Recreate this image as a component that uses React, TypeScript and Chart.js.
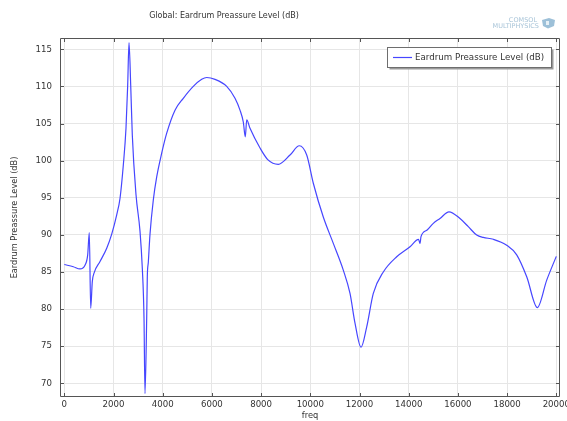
import React, { useEffect, useRef } from "react";
import { Chart, registerables } from "chart.js";

Chart.register(...registerables);

const chartTitle = "Global: Eardrum Preassure Level (dB)";
const seriesLabel = "Eardrum Preassure Level (dB)";
const xAxisLabel = "freq";
const yAxisLabel = "Eardrum Preassure Level (dB)";

const freq = [
  0, 366, 638, 841, 951, 1016, 1073, 1138, 1220, 1451, 1724, 1927, 2130, 2264,
  2399, 2508, 2577, 2630, 2699, 2764, 2915, 3077, 3171, 3240, 3280, 3349, 3374,
  3415, 3484, 3618, 3756, 3959, 4163, 4500, 4837, 5244, 5585, 5789, 6126, 6602,
  6939, 7142, 7276, 7358, 7415, 7549, 7956, 8280, 8699, 9175, 9553, 9854, 10122,
  10528, 10935, 11341, 11614, 11817, 12061, 12293, 12561, 12968, 13512, 14053,
  14400, 14459, 14500, 14750, 15000, 15272, 15638, 16085, 16423, 16764, 17032,
  17439, 17984, 18390, 18797, 19228, 19610, 20000,
];
const level = [
  86.0, 85.7, 85.4, 85.9, 87.3, 90.3, 80.1, 83.7, 84.95, 86.4, 88.2, 90.1, 92.7,
  94.9, 99.4, 104.4, 110.2, 115.9, 110.2, 103.45, 95.4, 90.5, 85.5, 78.75, 68.6,
  78.75, 84.35, 86.3, 90.1, 94.7, 97.8, 101, 103.7, 106.8, 108.4, 110.0, 110.95,
  111.2, 110.95, 110.0, 108.4, 106.8, 105.2, 103.2, 105.5, 104.35, 101.7, 100.1,
  99.5, 100.75, 102.0, 100.75, 96.95, 92.4, 88.85, 85.25, 82.1, 78.1, 74.85,
  77.6, 82.1, 85.0, 87.05, 88.4, 89.4, 88.85, 89.75, 90.65, 91.55, 92.2, 93.1,
  92.2, 91.1, 89.97, 89.65, 89.4, 88.6, 87.3, 84.35, 80.2, 83.9, 87.1,
];

const xTicks = [0, 2000, 4000, 6000, 8000, 10000, 12000, 14000, 16000, 18000, 20000];
const yTicks = [70, 75, 80, 85, 90, 95, 100, 105, 110, 115];

const FONT = "'DejaVu Sans', sans-serif";
const LINE_COLOR = "#4646ff";
const AXIS_COLOR = "#555555";

const decorPlugin = {
  id: "decor",
  afterDraw(chart: any) {
    const { ctx, chartArea } = chart;
    const { left, right, top, bottom } = chartArea;
    const xs = chart.scales.x;
    const ys = chart.scales.y;
    ctx.save();
    // frame
    ctx.strokeStyle = AXIS_COLOR;
    ctx.lineWidth = 1;
    ctx.beginPath();
    ctx.rect(left + 0.5, top + 0.5, right - left - 1, bottom - top - 1);
    ctx.stroke();
    // inward ticks
    ctx.beginPath();
    const tl = 4;
    xTicks.forEach((v) => {
      const px = Math.round(xs.getPixelForValue(v)) + 0.5;
      ctx.moveTo(px, bottom);
      ctx.lineTo(px, bottom - tl);
      ctx.moveTo(px, top);
      ctx.lineTo(px, top + tl);
    });
    yTicks.forEach((v) => {
      const py = Math.round(ys.getPixelForValue(v)) + 0.5;
      ctx.moveTo(left, py);
      ctx.lineTo(left + tl, py);
      ctx.moveTo(right, py);
      ctx.lineTo(right - tl, py);
    });
    ctx.stroke();

    // title
    ctx.fillStyle = "#333333";
    ctx.font = `8px ${FONT}`;
    ctx.textAlign = "center";
    ctx.textBaseline = "middle";
    ctx.fillText(chartTitle, 224, 15.5);

    // logo
    ctx.fillStyle = "#a8c4d8";
    ctx.font = `6.5px ${FONT}`;
    ctx.textAlign = "right";
    ctx.fillText("COMSOL", 537, 20);
    ctx.fillText("MULTIPHYSICS", 539, 26.5);
    ctx.fillStyle = "#9dc0d8";
    ctx.beginPath();
    ctx.moveTo(542, 20);
    ctx.lineTo(549, 18);
    ctx.lineTo(555, 20);
    ctx.lineTo(554, 26);
    ctx.lineTo(548, 28.5);
    ctx.lineTo(543, 26);
    ctx.closePath();
    ctx.fill();
    ctx.fillStyle = "#e6f0f6";
    ctx.fillRect(546, 21, 3, 4);

    // legend
    const lx = 387.5, ly = 47.5, lw = 164, lh = 20;
    ctx.fillStyle = "#9a9a9a";
    ctx.fillRect(lx + 2, ly + 2, lw, lh);
    ctx.fillStyle = "#ffffff";
    ctx.fillRect(lx, ly, lw, lh);
    ctx.strokeStyle = "#6e6e6e";
    ctx.strokeRect(lx, ly, lw, lh);
    ctx.strokeStyle = LINE_COLOR;
    ctx.lineWidth = 1.2;
    ctx.beginPath();
    ctx.moveTo(393, 57.5);
    ctx.lineTo(412, 57.5);
    ctx.stroke();
    ctx.fillStyle = "#333333";
    ctx.font = `8.7px ${FONT}`;
    ctx.textAlign = "left";
    ctx.textBaseline = "middle";
    ctx.fillText(seriesLabel, 415, 57.5);
    ctx.restore();
  },
};

export default function App() {
  const canvasRef = useRef<HTMLCanvasElement | null>(null);

  useEffect(() => {
    document.body.style.margin = "0";
    const canvas = canvasRef.current;
    if (!canvas) return;
    const data = freq.map((f, i) => ({ x: f, y: level[i] }));
    const chart = new Chart(canvas, {
      type: "line",
      data: {
        datasets: [
          {
            label: seriesLabel,
            data,
            borderColor: LINE_COLOR,
            borderWidth: 1.2,
            pointRadius: 0,
            fill: false,
            cubicInterpolationMode: "monotone",
          },
        ],
      },
      options: {
        animation: false,
        responsive: false,
        devicePixelRatio: 1,
        layout: { padding: { left: 0, right: 7, top: 38, bottom: 0 } },
        plugins: {
          legend: { display: false },
          title: { display: false },
          tooltip: { enabled: false },
        },
        scales: {
          x: {
            type: "linear",
            min: -175,
            max: 20150,
            afterBuildTicks: (scale: any) => {
              scale.ticks = xTicks.map((v) => ({ value: v }));
            },
            afterFit: (scale: any) => {
              scale.height = 24;
              scale.paddingLeft = 0;
              scale.paddingRight = 0;
            },
            ticks: {
              autoSkip: false,
              maxRotation: 0,
              padding: 3,
              color: "#333333",
              font: { family: FONT, size: 8.6 },
              callback: (v: any) => String(v),
            },
            grid: { color: "#e6e6e6", drawTicks: false, lineWidth: 1 },
            border: { display: false },
            title: {
              display: true,
              text: xAxisLabel,
              color: "#333333",
              font: { family: FONT, size: 8.3 },
              padding: { top: 0, bottom: 0 },
            },
          },
          y: {
            type: "linear",
            min: 68.15,
            max: 116.52,
            afterBuildTicks: (scale: any) => {
              scale.ticks = yTicks.map((v) => ({ value: v }));
            },
            afterFit: (scale: any) => {
              scale.width = 60;
              scale.paddingTop = 0;
              scale.paddingBottom = 0;
            },
            ticks: {
              autoSkip: false,
              padding: 8,
              color: "#333333",
              font: { family: FONT, size: 8.6 },
              callback: (v: any) => String(v),
            },
            grid: { color: "#e6e6e6", drawTicks: false, lineWidth: 1 },
            border: { display: false },
            title: {
              display: true,
              text: yAxisLabel,
              color: "#333333",
              font: { family: FONT, size: 8.2 },
              padding: { top: 10, bottom: 0 },
            },
          },
        },
      },
      plugins: [decorPlugin],
    });
    return () => chart.destroy();
  }, []);

  return <canvas ref={canvasRef} width={567} height={421} style={{ display: "block" }} />;
}
